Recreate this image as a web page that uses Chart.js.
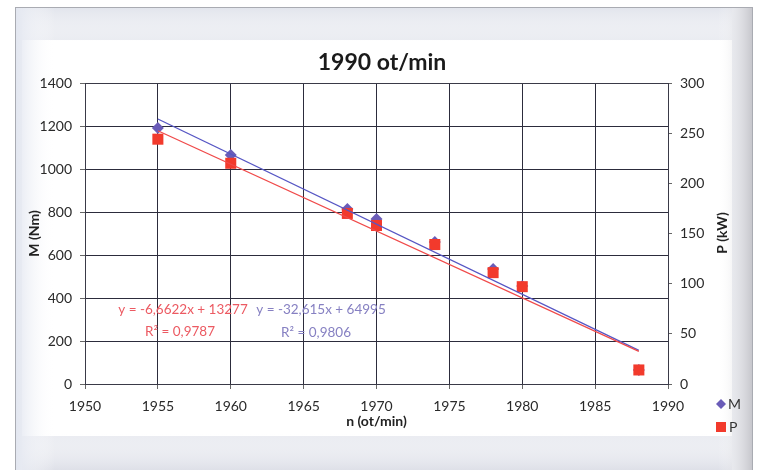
<!DOCTYPE html>
<html>
<head>
<meta charset="utf-8">
<script src="https://cdn.jsdelivr.net/npm/chart.js@4.4.1/dist/chart.umd.min.js"></script>
<style>
  html, body { margin: 0; padding: 0; background: #fff; }
  #wrap { width: 758px; height: 470px; position: relative; }
</style>
</head>
<body>
<div id="wrap"><canvas id="motorChart" width="758" height="470"></canvas></div>
<script>
const years = [1955, 1960, 1968, 1970, 1974, 1978, 1980, 1988];
const torqueM = [1191, 1065, 814, 767, 660, 535, 456, 65];   // Nm, left axis
const powerP = [244, 220, 170, 158, 139, 111, 97, 14];        // kW, right axis

// linear trendlines as printed on the chart: [slope, intercept]
const trendM = [-32.615, 64995];
const trendP = [-6.6622, 13277];
const trendRange = [1955, 1988];

const eqM = ['y = -32,615x + 64995', 'R² = 0,9806'];
const eqP = ['y = -6,6622x + 13277', 'R² = 0,9787'];

const xTicks = [1950, 1990, 5];
const yTicksM = [0, 1400, 200];
const yTicksP = [0, 300, 50];

const colM = '#6a5cb8';
const colMLine = '#5656c4';
const colP = '#f23a2c';
const colPLine = '#f04a4a';
const gridCol = '#2c2c3c';
const FONT = 'Lato, "Open Sans", sans-serif';

function points(xs, ys) {
  return xs.map((x, i) => ({ x: x, y: ys[i] }));
}
function trendPoints(coef) {
  return trendRange.map(x => ({ x: x, y: coef[0] * x + coef[1] }));
}

const ctx = document.getElementById('motorChart').getContext('2d');

const frame = {
  id: 'frame',
  beforeDraw(chart) {
    const c = chart.ctx;
    c.save();
    c.fillStyle = '#ffffff';
    c.fillRect(0, 0, chart.width, chart.height);
    // photographed frame, soft grey edges
    c.fillStyle = '#e8eaf0';
    c.fillRect(15, 7, 738, 463);
    c.fillStyle = '#ffffff';
    c.fillRect(22, 40, 710, 396);
    let g = c.createLinearGradient(0, 7, 0, 44);
    g.addColorStop(0, 'rgba(225,228,236,1)');
    g.addColorStop(1, 'rgba(255,255,255,0)');
    c.fillStyle = g; c.fillRect(22, 7, 710, 37);
    g = c.createLinearGradient(0, 470, 0, 432);
    g.addColorStop(0, 'rgba(222,224,232,1)');
    g.addColorStop(1, 'rgba(255,255,255,0)');
    c.fillStyle = g; c.fillRect(22, 432, 710, 38);
    g = c.createLinearGradient(15, 0, 55, 0);
    g.addColorStop(0, 'rgba(226,230,240,1)');
    g.addColorStop(1, 'rgba(255,255,255,0)');
    c.fillStyle = g; c.fillRect(15, 7, 40, 463);
    g = c.createLinearGradient(753, 0, 718, 0);
    g.addColorStop(0, 'rgba(196,196,202,1)');
    g.addColorStop(1, 'rgba(255,255,255,0)');
    c.fillStyle = g; c.fillRect(718, 7, 35, 463);
    c.strokeStyle = '#a9abb2';
    c.lineWidth = 1;
    c.strokeRect(15.5, 7.5, 737, 470);
    c.restore();
  },
  afterDraw(chart) {
    const c = chart.ctx;
    const a = chart.chartArea;
    c.save();
    // plot border
    c.strokeStyle = '#3a3a48';
    c.lineWidth = 1;
    c.strokeRect(Math.round(a.left) + 0.5, Math.round(a.top) + 0.5,
                 Math.round(a.right - a.left), Math.round(a.bottom - a.top));
    // title
    c.fillStyle = '#1a1a1a';
    c.font = 'bold 23px ' + FONT;
    c.textAlign = 'center';
    c.textBaseline = 'middle';
    c.fillText('1990 ot/min', 382, 63);
    // right axis title, reading bottom to top
    c.save();
    c.translate(722, 233);
    c.rotate(-Math.PI / 2);
    c.font = 'bold 14px ' + FONT;
    c.fillStyle = '#222';
    c.fillText('P (kW)', 0, 0);
    c.restore();
    // trendline equations
    c.font = '13.5px ' + FONT;
    c.fillStyle = '#ec5a62';
    c.fillText(eqP[0], 183, 310);
    c.fillText(eqP[1], 180, 332);
    c.fillStyle = '#8680c2';
    c.fillText(eqM[0], 321, 310);
    c.fillText(eqM[1], 316, 333);
    // legend
    c.fillStyle = colM;
    c.beginPath();
    c.moveTo(721, 399); c.lineTo(726, 404); c.lineTo(721, 409); c.lineTo(716, 404);
    c.closePath(); c.fill();
    c.fillStyle = colP;
    c.fillRect(716, 422, 10, 10);
    c.fillStyle = '#333';
    c.font = '14px ' + FONT;
    c.textAlign = 'left';
    c.fillText('M', 728, 404);
    c.fillText('P', 729, 427);
    c.restore();
  }
};

const tickFont = { family: FONT, size: 14 };
const tickCol = '#2a2a2a';

const chart = new Chart(ctx, {
  type: 'scatter',
  data: {
    datasets: [
      {
        label: 'M',
        data: points(years, torqueM),
        yAxisID: 'y',
        pointStyle: 'rectRot',
        pointRadius: 6,
        backgroundColor: colM,
        borderColor: colM,
        borderWidth: 0,
        order: 4
      },
      {
        label: 'P',
        data: points(years, powerP),
        yAxisID: 'y1',
        pointStyle: 'rect',
        pointRadius: 7.8,
        backgroundColor: colP,
        borderColor: colP,
        borderWidth: 0,
        order: 3
      },
      {
        label: 'trend M',
        data: trendPoints(trendM),
        yAxisID: 'y',
        showLine: true,
        pointRadius: 0,
        borderColor: colMLine,
        borderWidth: 1.3,
        order: 2
      },
      {
        label: 'trend P',
        data: trendPoints(trendP),
        yAxisID: 'y1',
        showLine: true,
        pointRadius: 0,
        borderColor: colPLine,
        borderWidth: 1.3,
        order: 1
      }
    ]
  },
  options: {
    responsive: false,
    animation: false,
    layout: { padding: { left: 26, right: 28, top: 83, bottom: 40 } },
    plugins: {
      legend: { display: false },
      tooltip: { enabled: false }
    },
    scales: {
      x: {
        type: 'linear',
        min: xTicks[0],
        max: xTicks[1],
        afterFit: s => { s.height = 46; },
        ticks: { stepSize: xTicks[2], padding: 9, color: tickCol, font: tickFont,
                 callback: v => String(v) },
        grid: { color: gridCol, lineWidth: 1, tickLength: 5, tickColor: '#666' },
        border: { display: false },
        title: { display: true, text: 'n (ot/min)', color: '#222', padding: 0,
                 font: { family: FONT, size: 14, weight: 'bold' } }
      },
      y: {
        position: 'left',
        min: yTicksM[0],
        max: yTicksM[1],
        afterFit: s => { s.width = 59; },
        ticks: { stepSize: yTicksM[2], padding: 8, color: tickCol, font: tickFont,
                 callback: v => String(v) },
        grid: { color: gridCol, lineWidth: 1, tickLength: 5, tickColor: '#666' },
        border: { display: false },
        title: { display: true, text: 'M (Nm)', color: '#222', padding: 0,
                 font: { family: FONT, size: 14, weight: 'bold' } }
      },
      y1: {
        position: 'right',
        min: yTicksP[0],
        max: yTicksP[1],
        afterFit: s => { s.width = 62; },
        ticks: { stepSize: yTicksP[2], padding: 8, color: tickCol, font: tickFont,
                 callback: v => String(v) },
        grid: { drawOnChartArea: false, tickLength: 4, tickColor: '#666' },
        border: { display: false },
        title: { display: false }
      }
    }
  },
  plugins: [frame]
});
</script>
</body>
</html>
